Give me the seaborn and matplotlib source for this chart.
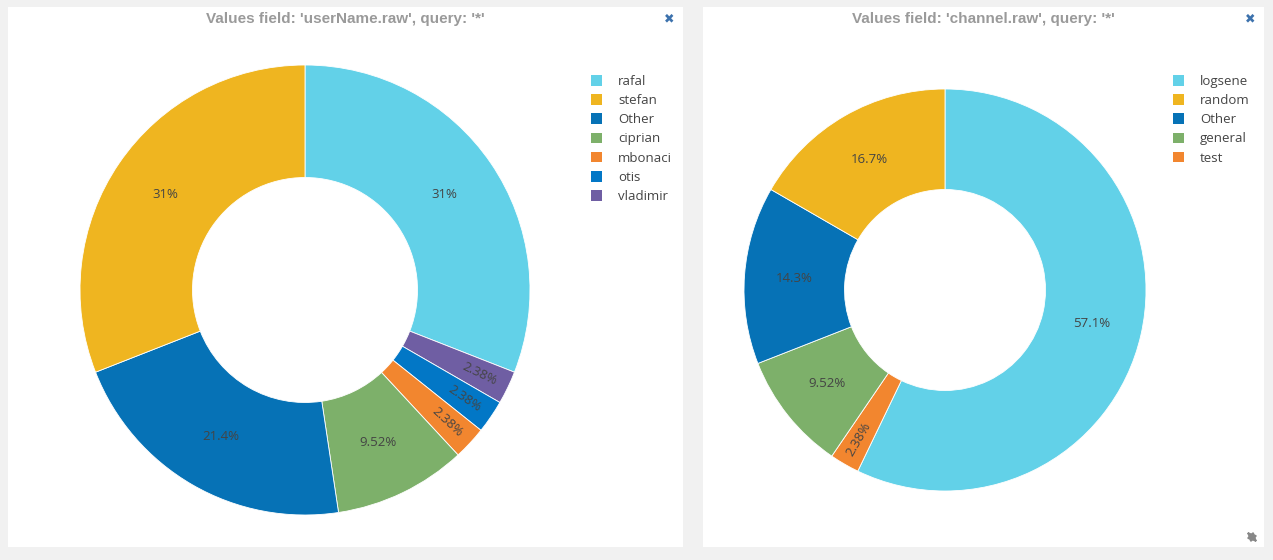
import matplotlib.pyplot as plt
import numpy as np
import seaborn as sns
from matplotlib.patches import Patch

user_names = ["rafal", "stefan", "Other", "ciprian", "mbonaci", "otis", "vladimir"]
user_counts = [13, 13, 9, 4, 1, 1, 1]
user_colors = ["#62d1e8", "#efb520", "#0672b6", "#7db06a", "#f2862f", "#0277c6", "#6f5ea3"]
# clockwise drawing order from 12 o'clock
user_order = ["rafal", "vladimir", "otis", "mbonaci", "ciprian", "Other", "stefan"]

channels = ["logsene", "random", "Other", "general", "test"]
channel_counts = [24, 7, 6, 4, 1]
channel_colors = ["#62d1e8", "#efb520", "#0672b6", "#7db06a", "#f2862f"]
channel_order = ["logsene", "test", "general", "Other", "random"]

W, H = 1273, 560

sns.set_style("white")
plt.rcParams["font.family"] = ["Open Sans", "DejaVu Sans"]

fig = plt.figure(figsize=(W / 100, H / 100), dpi=100)
fig.patch.set_facecolor("#f1f1f1")


def px_axes(x0, y0, x1, y1):
    # pixel box (top-left origin) -> figure axes
    return fig.add_axes([x0 / W, 1 - y1 / H, (x1 - x0) / W, (y1 - y0) / H])


def fmt_pct(p):
    return f"{p:.3g}%"


def donut(box, panel, title, names, counts, colors, order, legend_x):
    x0, y0, x1, y1 = panel
    pan = px_axes(x0, y0, x1, y1)
    pan.set_facecolor("white")
    pan.set_xticks([])
    pan.set_yticks([])
    for s in pan.spines.values():
        s.set_visible(False)
    pw, ph = x1 - x0, y1 - y0
    pan.set_xlim(0, pw)
    pan.set_ylim(ph, 0)
    pan.text(pw / 2, 12.5, title, ha="center", va="center", fontsize=11,
             fontweight="bold", color="#9a9a9a", family=["Liberation Sans", "DejaVu Sans"])
    pan.text(pw - 14, 11.5, "\u2716", ha="center", va="center", fontsize=9,
             color="#3d72ad", family=["DejaVu Sans"])

    handles = [Patch(facecolor=c, edgecolor="none") for c in colors]
    pan.legend(handles, names, loc="upper left", bbox_to_anchor=(legend_x / pw, 1 - 56 / ph),
               frameon=False, fontsize=9.5, handlelength=0.85, handleheight=0.85,
               handletextpad=1.2, labelspacing=0.47, labelcolor="#444444")

    cx, cy, r = box
    ax = px_axes(cx - r, cy - r, cx + r, cy + r)
    idx = [names.index(n) for n in order]
    vals = [counts[i] for i in idx]
    cols = [colors[i] for i in idx]
    wedges, _ = ax.pie(vals, colors=cols, startangle=90, counterclock=False,
                       radius=1.0, wedgeprops=dict(width=0.5, edgecolor="white", linewidth=0.6))
    total = sum(vals)
    for w, v in zip(wedges, vals):
        ang = (w.theta1 + w.theta2) / 2
        rad = np.deg2rad(ang)
        rr = 0.75
        frac = v / total
        rot = 0
        if frac < 0.05:
            # thin slices get their label turned along the radius
            rr = 0.86
            rot = ang % 360
            if 90 < rot < 270:
                rot -= 180
            elif rot >= 270:
                rot -= 360
        ax.text(rr * np.cos(rad), rr * np.sin(rad), fmt_pct(100 * frac), ha="center",
                va="center", fontsize=9.5, color="#444444", rotation=rot,
                rotation_mode="anchor")
    ax.set_xlim(-1, 1)
    ax.set_ylim(-1, 1)
    ax.set_aspect("equal")
    ax.axis("off")
    return pan


donut((305, 290, 225), (8, 7, 683, 547), "Values field: 'userName.raw', query: '*'",
      user_names, user_counts, user_colors, user_order, 571)
right = donut((945, 290, 201), (703, 7, 1264, 547), "Values field: 'channel.raw', query: '*'",
              channels, channel_counts, channel_colors, channel_order, 458)

# resize handle in the corner of the right panel
rw, rh = 1264 - 703, 547 - 7
mid = (rw - 12, rh - 10)
right.annotate("", xy=(rw - 5, rh - 3), xytext=mid,
               arrowprops=dict(arrowstyle="-|>", color="#888888", lw=1.5, mutation_scale=12))
right.annotate("", xy=(rw - 19, rh - 17), xytext=mid,
               arrowprops=dict(arrowstyle="-|>", color="#888888", lw=1.5, mutation_scale=12))

fig.savefig("out.png", dpi=100, facecolor=fig.get_facecolor())
